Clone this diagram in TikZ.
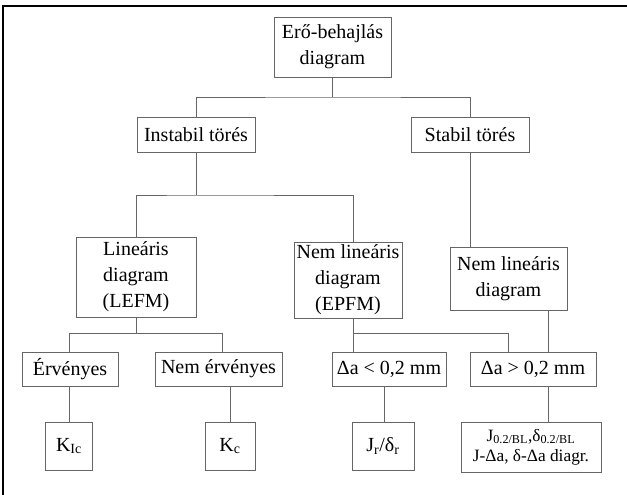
\documentclass[tikz,border=0pt]{standalone}
\usepackage{fontspec}
\setmainfont{Liberation Serif}
\begin{document}
\begin{tikzpicture}[x=0.75pt,y=-0.75pt,
  box/.style={draw=black!60, line width=0.6pt, align=center, inner sep=0pt,
    font=\fontsize{15}{19.5}\selectfont},
  sz/.style 2 args={minimum width=#1*0.75pt, minimum height=#2*0.75pt},
  conn/.style={draw=black!60, line width=0.6pt}]
\useasboundingbox (0,0) rectangle (627,495);
\draw[line width=1.8pt] (3,495) -- (3,6) -- (627,6);

\node[box, sz={117}{60}] (top) at (332.5,47) {Erő-behajlás\\diagram};
\node[box, sz={118}{35}] (inst) at (196,134.5) {Instabil törés};
\node[box, sz={118}{35}] (stab) at (470,134.5) {Stabil törés};
\node[box, sz={120}{80}] (lefm) at (136,277) {Lineáris\\diagram\\(LEFM)};
\node[box, sz={108}{76}] (epfm) at (348,280) {Nem lineáris\\diagram\\(EPFM)};
\node[box, sz={117}{63}] (nemr) at (508.5,278.5) {Nem lineáris\\diagram};
\node[box, sz={96}{34}] (erv) at (70,369) {Érvényes};
\node[box, sz={127}{34}] (nerv) at (218.5,369) {Nem érvényes};
\node[box, sz={114}{34}] (dlt) at (389,369) {Δa < 0,2 mm};
\node[box, sz={126}{34}] (dgt) at (533,369) {Δa > 0,2 mm};
\node[box, sz={47}{48}] (kic) at (69,446) {K\textsubscript{Ic}};
\node[box, sz={50}{48}] (kc) at (230,446) {K\textsubscript{c}};
\node[box, sz={62}{48}] (jr) at (383,446) {J\textsubscript{r}/δ\textsubscript{r}};
\node[box, sz={140}{50}, font=\fontsize{13}{15}\selectfont] (jbl) at (531,447)
  {J\textsubscript{0.2/BL},δ\textsubscript{0.2/BL}\\J-Δa, δ-Δa diagr.};

\coordinate (b1) at (332.5,97);
\coordinate (b2) at (196,195);
\coordinate (e1) at (353,195);
\coordinate (b3) at (136,333);
\coordinate (c1) at (69,333);
\coordinate (c2) at (222,333);
\coordinate (c3) at (230,400);
\coordinate (e2) at (353,333);
\coordinate (e3) at (508,333);
\coordinate (r1) at (548,333);
\coordinate (d1) at (384,400);

\draw[conn] (top.south) -- (b1);
\draw[conn] (inst.north) |- (b1) -| (stab.north);
\draw[conn] (inst.south) -- (b2);
\draw[conn] (lefm.north) |- (b2) -- (e1) -- (e1 |- epfm.north);
\draw[conn] (stab.south) -- (stab.south |- nemr.north);
\draw[conn] (lefm.south) -- (b3);
\draw[conn] (c1 |- erv.north) -- (c1) -- (c2) -- (c2 |- nerv.north);
\draw[conn] (c1 |- erv.south) -- (c1 |- kic.north);
\draw[conn] (c3 |- nerv.south) -- (c3 |- kc.north);
\draw[conn] (e1 |- epfm.south) -- (e1 |- dlt.north);
\draw[conn] (e2) -- (e3) -- (e3 |- dgt.north);
\draw[conn] (r1 |- nemr.south) -- (r1 |- dgt.north);
\draw[conn] (d1 |- dlt.south) -- (d1 |- jr.north);
\draw[conn] (r1 |- dgt.south) -- (r1 |- jbl.north);
\end{tikzpicture}
\end{document}
